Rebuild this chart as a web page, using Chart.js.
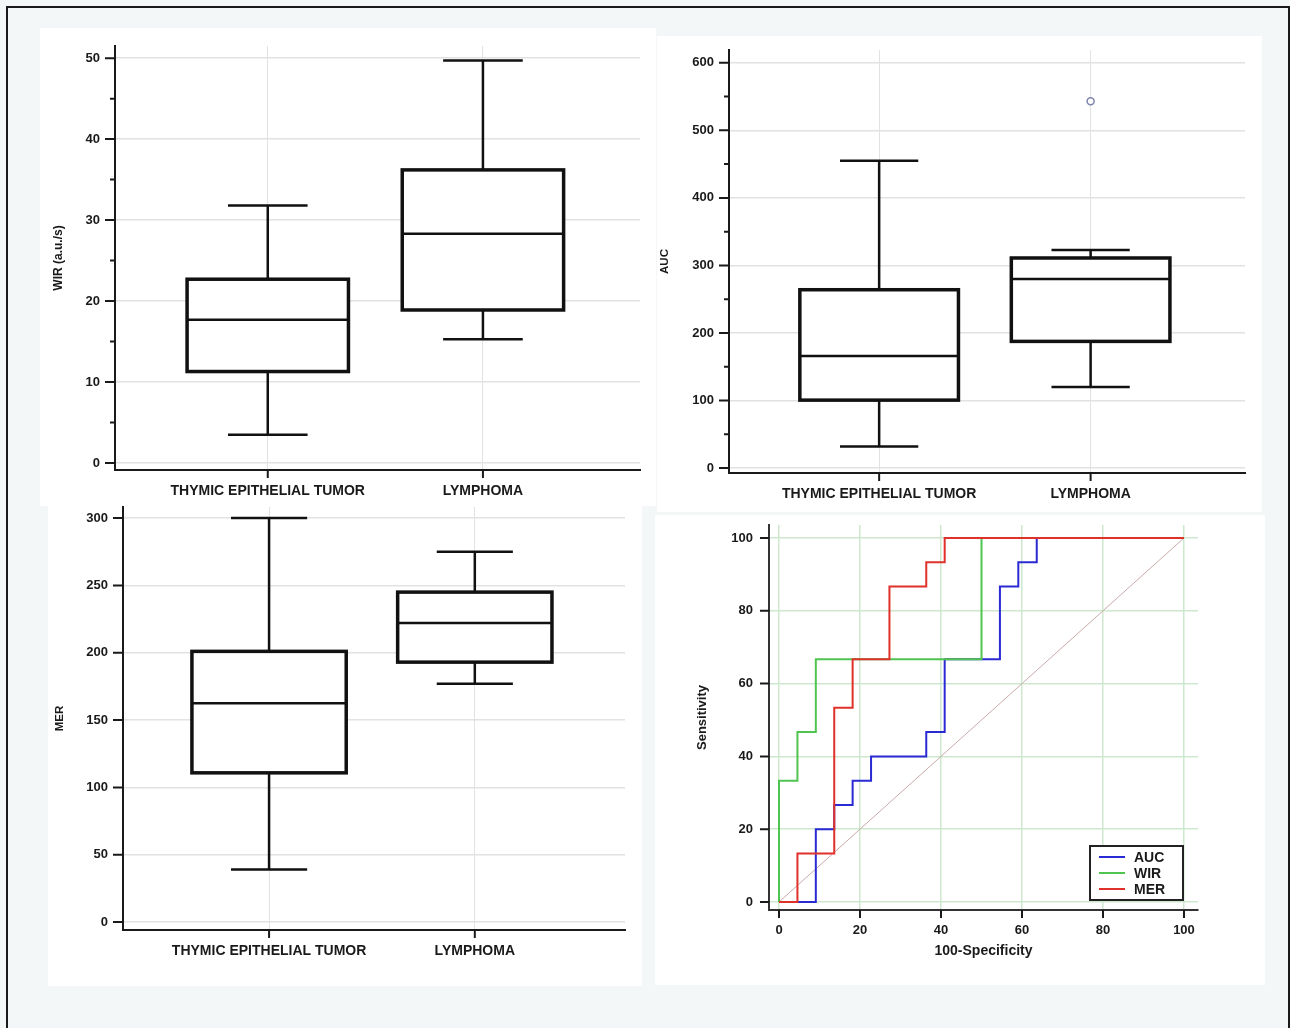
<!DOCTYPE html>
<html>
<head>
<meta charset="utf-8">
<script src="https://cdn.jsdelivr.net/npm/chart.js@4.4.1/dist/chart.umd.min.js"></script>
<style>
  body { margin: 0; background: #fff; }
  #page { position: relative; width: 1290px; height: 1028px; background: #f3f7f7; overflow: hidden; }
  .frame { position: absolute; left: 6px; top: 6px; width: 1280px; height: 1040px; border: 2px solid #1a1a1a; border-bottom: none; }
  .panel { position: absolute; background: #fff; }
  canvas { position: absolute; left: 0; top: 0; }
</style>
</head>
<body>
<div id="page">
  <div class="frame"></div>
  <div class="panel" style="left:40px;top:28px;width:616px;height:478px"></div>
  <div class="panel" style="left:657px;top:36px;width:605px;height:476px"></div>
  <div class="panel" style="left:48px;top:506px;width:594px;height:480px"></div>
  <div class="panel" style="left:655px;top:515px;width:610px;height:470px"></div>
  <canvas id="wir" width="1290" height="1028"></canvas>
  <canvas id="auc" width="1290" height="1028"></canvas>
  <canvas id="mer" width="1290" height="1028"></canvas>
  <canvas id="roc" width="1290" height="1028"></canvas>
</div>
<script>
const groups = ['THYMIC EPITHELIAL TUMOR', 'LYMPHOMA'];
const groupPos = [1, 2];

// WIR (a.u./s)
const wirLow = [3.5, 15.3];
const wirQ1 = [11.3, 18.9];
const wirMedian = [17.7, 28.3];
const wirQ3 = [22.7, 36.2];
const wirHigh = [31.8, 49.7];
const wirTicks = [0, 10, 20, 30, 40, 50];
const wirMinor = [5, 15, 25, 35, 45];

// AUC
const aucLow = [32, 120];
const aucQ1 = [100.5, 187.5];
const aucMedian = [166, 280];
const aucQ3 = [264, 311];
const aucHigh = [455, 323];
const aucOutliers = [[], [543]];
const aucTicks = [0, 100, 200, 300, 400, 500, 600];
const aucMinor = [50, 150, 250, 350, 450, 550];

// MER
const merLow = [39, 177];
const merQ1 = [110.8, 193];
const merMedian = [162.5, 222];
const merQ3 = [201, 245];
const merHigh = [300, 275];
const merTicks = [0, 50, 100, 150, 200, 250, 300];

// ROC curves (100-Specificity, Sensitivity)
const rocTicks = [0, 20, 40, 60, 80, 100];
const rocAucFpr = [0, 9.09, 13.64, 18.18, 22.73, 36.36, 40.91, 54.55, 59.09, 63.64, 100];
const rocAucSens = [0, 20, 26.67, 33.33, 40, 46.67, 66.67, 86.67, 93.33, 100, 100];
const rocWirFpr = [0, 0, 4.55, 9.09, 50, 100];
const rocWirSens = [0, 33.33, 46.67, 66.67, 100, 100];
const rocMerFpr = [0, 4.55, 13.64, 18.18, 27.27, 36.36, 40.91, 100];
const rocMerSens = [0, 13.33, 53.33, 66.67, 86.67, 93.33, 100, 100];
const diagX = [0, 100];
const diagY = [0, 100];

const FONT = '"Liberation Sans", Arial, Helvetica, sans-serif';
const INK = '#1a1a1a';
const W = 1290, H = 1028;

Chart.defaults.font.family = FONT;
Chart.defaults.color = INK;

// draws tick marks (major + minor) outside the axes
function tickMarks(yMajor, yMinor, xMajor, yLen, xLen) {
  return {
    id: 'tickMarks',
    afterDraw(chart) {
      const { ctx, chartArea: a, scales: { x, y } } = chart;
      ctx.save();
      ctx.strokeStyle = INK;
      ctx.lineWidth = 2;
      ctx.beginPath();
      yMajor.forEach(v => { const p = y.getPixelForValue(v); ctx.moveTo(a.left - yLen, p); ctx.lineTo(a.left, p); });
      yMinor.forEach(v => { const p = y.getPixelForValue(v); ctx.moveTo(a.left - yLen / 2, p); ctx.lineTo(a.left, p); });
      xMajor.forEach(v => { const p = x.getPixelForValue(v); ctx.moveTo(p, a.bottom); ctx.lineTo(p, a.bottom + xLen); });
      ctx.stroke();
      ctx.restore();
    }
  };
}

// box and whisker drawing through the chart scales
function boxes(low, q1, med, q3, high) {
  return {
    id: 'boxes',
    afterDatasetsDraw(chart) {
      const { ctx, scales: { x, y } } = chart;
      ctx.save();
      ctx.strokeStyle = '#111';
      groupPos.forEach((g, i) => {
        const cx = x.getPixelForValue(g);
        const half = x.getPixelForValue(g + 0.375) - cx;
        const cap = x.getPixelForValue(g + 0.185) - cx;
        const pLow = y.getPixelForValue(low[i]);
        const pQ1 = y.getPixelForValue(q1[i]);
        const pMed = y.getPixelForValue(med[i]);
        const pQ3 = y.getPixelForValue(q3[i]);
        const pHigh = y.getPixelForValue(high[i]);
        ctx.lineWidth = 2.5;
        ctx.beginPath();
        ctx.moveTo(cx, pHigh); ctx.lineTo(cx, pQ3);
        ctx.moveTo(cx, pQ1); ctx.lineTo(cx, pLow);
        ctx.moveTo(cx - cap, pHigh); ctx.lineTo(cx + cap, pHigh);
        ctx.moveTo(cx - cap, pLow); ctx.lineTo(cx + cap, pLow);
        ctx.stroke();
        ctx.fillStyle = '#fff';
        ctx.fillRect(cx - half, pQ3, half * 2, pQ1 - pQ3);
        ctx.lineWidth = 3.5;
        ctx.strokeRect(cx - half, pQ3, half * 2, pQ1 - pQ3);
        ctx.lineWidth = 2.5;
        ctx.beginPath();
        ctx.moveTo(cx - half, pMed); ctx.lineTo(cx + half, pMed);
        ctx.stroke();
      });
      ctx.restore();
    }
  };
}

function boxChart(id, geo, yTitle, titleSize, ticks, minor, stats, outliers) {
  const xH = 40;
  const outlierPts = [];
  outliers.forEach((list, i) => list.forEach(v => outlierPts.push({ x: groupPos[i], y: v })));
  return new Chart(document.getElementById(id), {
    type: 'scatter',
    data: {
      datasets: [{
        data: outlierPts,
        pointRadius: 3.5,
        backgroundColor: '#fff',
        borderColor: '#7d85aa',
        borderWidth: 1.5
      }]
    },
    options: {
      responsive: false,
      animation: false,
      events: [],
      layout: { padding: { left: geo.padLeft, top: geo.T, right: W - geo.R, bottom: H - geo.B - xH } },
      plugins: { legend: { display: false }, tooltip: { enabled: false } },
      scales: {
        x: {
          type: 'linear', min: 0.29, max: 2.73,
          afterFit: s => { s.height = xH; },
          afterBuildTicks: s => { s.ticks = groupPos.map(v => ({ value: v })); },
          ticks: { callback: v => groups[v - 1], font: { size: 14, weight: 'bold' }, color: INK, padding: 13, autoSkip: false, maxRotation: 0 },
          grid: { color: '#e2e2e2', lineWidth: 1, drawTicks: false },
          border: { color: INK, width: 2 }
        },
        y: {
          min: geo.yMin, max: geo.yMax,
          afterFit: s => { s.width = geo.L - geo.padLeft; },
          afterBuildTicks: s => { s.ticks = ticks.map(v => ({ value: v })); },
          ticks: { font: { size: 13, weight: 'bold' }, color: INK, padding: 15 },
          grid: { color: '#e2e2e2', lineWidth: 1.5, drawTicks: false },
          border: { color: INK, width: 2 },
          title: { display: true, text: yTitle, font: { size: titleSize, weight: 'bold' }, color: INK, padding: 0 }
        }
      }
    },
    plugins: [boxes(...stats), tickMarks(ticks, minor, groupPos, 10, 8)]
  });
}

boxChart('wir', { padLeft: 51, L: 115, R: 640, T: 46, B: 470, yMin: -0.86, yMax: 51.5 },
  'WIR (a.u./s)', 12, wirTicks, wirMinor, [wirLow, wirQ1, wirMedian, wirQ3, wirHigh], [[], []]);
boxChart('auc', { padLeft: 658, L: 729, R: 1245, T: 50, B: 473, yMin: -7.4, yMax: 619 },
  'AUC', 11.5, aucTicks, aucMinor, [aucLow, aucQ1, aucMedian, aucQ3, aucHigh], aucOutliers);
boxChart('mer', { padLeft: 53, L: 123, R: 625, T: 507, B: 930, yMin: -5.9, yMax: 308.2 },
  'MER', 11.5, merTicks, [], [merLow, merQ1, merMedian, merQ3, merHigh], [[], []]);

// ROC
const pts = (xs, ys) => xs.map((v, i) => ({ x: v, y: ys[i] }));
const rocLegend = {
  id: 'rocLegend',
  afterDraw(chart) {
    const { ctx, chartArea: a } = chart;
    const items = chart.data.datasets.filter(d => d.label);
    const right = a.right - 15, bottom = a.bottom - 10;
    const left = right - 93, top = bottom - 54;
    ctx.save();
    ctx.fillStyle = '#fff';
    ctx.fillRect(left, top, right - left, bottom - top);
    ctx.strokeStyle = '#222';
    ctx.lineWidth = 2;
    ctx.strokeRect(left, top, right - left, bottom - top);
    ctx.font = 'bold 14px ' + FONT;
    ctx.textBaseline = 'middle';
    items.forEach((d, i) => {
      const yy = top + 11 + i * 16;
      ctx.strokeStyle = d.borderColor;
      ctx.lineWidth = 2;
      ctx.beginPath(); ctx.moveTo(left + 9, yy); ctx.lineTo(left + 35, yy); ctx.stroke();
      ctx.fillStyle = INK;
      ctx.fillText(d.label, left + 44, yy + 1);
    });
    ctx.restore();
  }
};

const rocL = 769, rocR = 1198, rocT = 525, rocB = 910, rocXH = 50;
new Chart(document.getElementById('roc'), {
  type: 'scatter',
  data: {
    datasets: [
      { label: 'AUC', data: pts(rocAucFpr, rocAucSens), borderColor: '#2a2ad4', order: 2 },
      { label: 'WIR', data: pts(rocWirFpr, rocWirSens), borderColor: '#4fc44f', order: 1 },
      { label: 'MER', data: pts(rocMerFpr, rocMerSens), borderColor: '#e0302a', order: 0 },
      { data: pts(diagX, diagY), borderColor: '#c9aaaa', borderWidth: 1, stepped: false, order: 3 }
    ]
  },
  options: {
    responsive: false,
    animation: false,
    events: [],
    showLine: true,
    elements: { point: { radius: 0 }, line: { borderWidth: 2, stepped: 'before', tension: 0 } },
    layout: { padding: { left: 695, top: rocT, right: W - rocR, bottom: H - rocB - rocXH } },
    plugins: { legend: { display: false }, tooltip: { enabled: false } },
    scales: {
      x: {
        type: 'linear', min: -2.47, max: 103.46,
        afterFit: s => { s.height = rocXH; },
        afterBuildTicks: s => { s.ticks = rocTicks.map(v => ({ value: v })); },
        ticks: { font: { size: 13, weight: 'bold' }, color: INK, padding: 13, maxRotation: 0, autoSkip: false },
        grid: { color: '#cde8cd', lineWidth: 1.5, drawTicks: false },
        border: { color: '#333', width: 2 },
        title: { display: true, text: '100-Specificity', font: { size: 14, weight: 'bold' }, color: INK, padding: 0 }
      },
      y: {
        min: -2.2, max: 103.57,
        afterFit: s => { s.width = rocL - 695; },
        afterBuildTicks: s => { s.ticks = rocTicks.map(v => ({ value: v })); },
        ticks: { font: { size: 13, weight: 'bold' }, color: INK, padding: 16 },
        grid: { color: '#cde8cd', lineWidth: 1.5, drawTicks: false },
        border: { color: '#333', width: 2 },
        title: { display: true, text: 'Sensitivity', font: { size: 13, weight: 'bold' }, color: INK, padding: 0 }
      }
    }
  },
  plugins: [tickMarks(rocTicks, [], rocTicks, 9, 8), rocLegend]
});
</script>
</body>
</html>
